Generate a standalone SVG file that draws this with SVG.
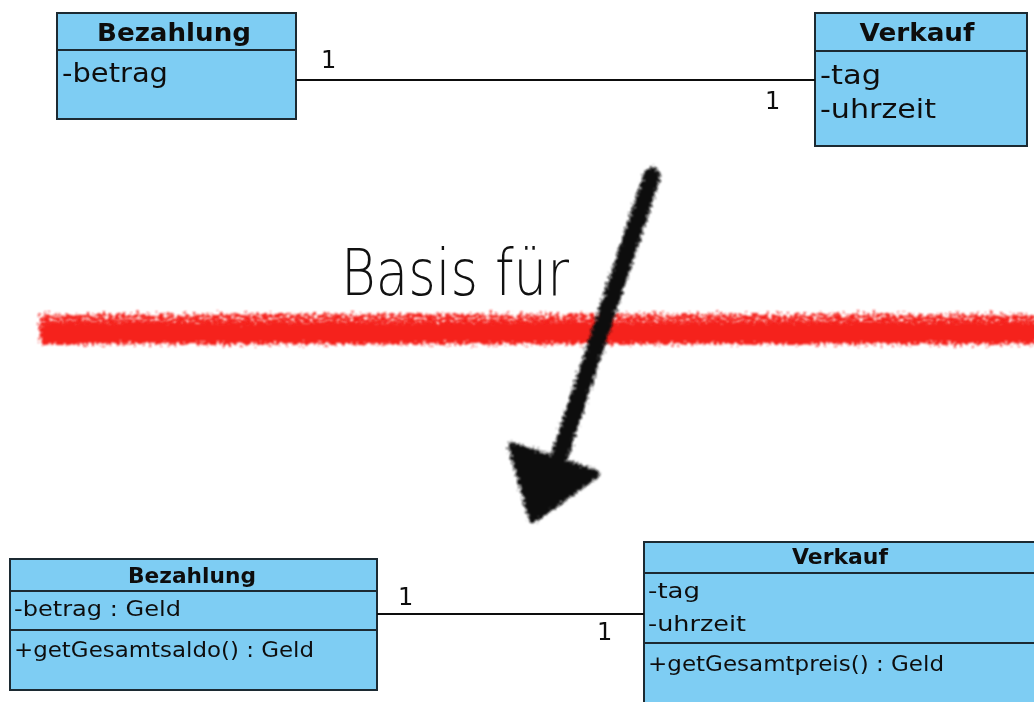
<svg xmlns="http://www.w3.org/2000/svg" width="1034" height="702" viewBox="0 0 1034 702">
  <style>
    .box { fill: #7ecdf3; stroke: #1e2a30; stroke-width: 2; }
    .sep { stroke: #1e2a30; stroke-width: 2; }
    .title { font-family: "DejaVu Sans", "Liberation Sans", sans-serif; font-weight: bold; fill: #111; text-anchor: middle; }
    .attr { font-family: "DejaVu Sans", "Liberation Sans", sans-serif; fill: #111; }
    .mult { font-family: "DejaVu Sans", "Liberation Sans", sans-serif; fill: #111; font-size: 24px; }
    .assoc { stroke: #111; stroke-width: 2; fill: none; }
    .hand { font-family: "DejaVu Sans", sans-serif; font-weight: 200; fill: #111; }
  </style>
  <defs>
    <!-- rough crayon edge -->
    <filter id="crayon" x="-5%" y="-80%" width="110%" height="260%">
      <feTurbulence type="fractalNoise" baseFrequency="0.35" numOctaves="3" seed="3" result="n"/>
      <feDisplacementMap in="SourceGraphic" in2="n" scale="12" xChannelSelector="R" yChannelSelector="G" result="d"/>
      <feGaussianBlur in="d" stdDeviation="0.9"/>
    </filter>
    <!-- sparse, speckled crayon strokes -->
    <filter id="speckle" x="-5%" y="-80%" width="110%" height="260%">
      <feTurbulence type="fractalNoise" baseFrequency="0.3" numOctaves="3" seed="11" result="n"/>
      <feDisplacementMap in="SourceGraphic" in2="n" scale="12" xChannelSelector="R" yChannelSelector="G" result="d"/>
      <feTurbulence type="fractalNoise" baseFrequency="0.22 0.5" numOctaves="2" seed="5" result="m"/>
      <feColorMatrix in="m" type="matrix" values="0 0 0 0 0  0 0 0 0 0  0 0 0 0 0  8 0 0 0 -2.8" result="mask"/>
      <feComposite in="d" in2="mask" operator="in" result="c"/>
      <feGaussianBlur in="c" stdDeviation="0.8"/>
    </filter>
    <filter id="chalk" x="-20%" y="-10%" width="140%" height="120%">
      <feTurbulence type="fractalNoise" baseFrequency="0.4" numOctaves="3" seed="7" result="n"/>
      <feDisplacementMap in="SourceGraphic" in2="n" scale="10" xChannelSelector="R" yChannelSelector="G" result="d"/>
      <feGaussianBlur in="d" stdDeviation="0.8"/>
    </filter>
    <filter id="soft"><feGaussianBlur stdDeviation="0.45"/></filter>
  </defs>

  <rect width="1034" height="702" fill="#fff"/>

  <g filter="url(#soft)">
    <!-- upper model: classes with attributes only -->
    <g id="bezahlung-top">
      <rect class="box" x="57" y="13" width="239" height="106"/>
      <line class="sep" x1="57" y1="50" x2="296" y2="50"/>
      <text class="title" x="174" y="41" font-size="25" textLength="154" lengthAdjust="spacingAndGlyphs">Bezahlung</text>
      <text class="attr" x="62" y="82" font-size="26" textLength="106" lengthAdjust="spacingAndGlyphs">-betrag</text>
    </g>
    <g id="verkauf-top">
      <rect class="box" x="815" y="13" width="212" height="133"/>
      <line class="sep" x1="815" y1="51" x2="1027" y2="51"/>
      <text class="title" x="917" y="41" font-size="25" textLength="115" lengthAdjust="spacingAndGlyphs">Verkauf</text>
      <text class="attr" x="820" y="84" font-size="26" textLength="61" lengthAdjust="spacingAndGlyphs">-tag</text>
      <text class="attr" x="820" y="118" font-size="26" textLength="116" lengthAdjust="spacingAndGlyphs">-uhrzeit</text>
    </g>

    <!-- lower model: classes with types and operations -->
    <g id="bezahlung-bottom">
      <rect class="box" x="10" y="559" width="367" height="131"/>
      <line class="sep" x1="10" y1="591" x2="377" y2="591"/>
      <line class="sep" x1="10" y1="630" x2="377" y2="630"/>
      <text class="title" x="192" y="583" font-size="21" textLength="128" lengthAdjust="spacingAndGlyphs">Bezahlung</text>
      <text class="attr" x="14" y="616" font-size="22" textLength="167" lengthAdjust="spacingAndGlyphs">-betrag : Geld</text>
      <text class="attr" x="14" y="657" font-size="22" textLength="300" lengthAdjust="spacingAndGlyphs">+getGesamtsaldo() : Geld</text>
    </g>
    <g id="verkauf-bottom">
      <rect class="box" x="644" y="542" width="400" height="170"/>
      <line class="sep" x1="644" y1="573" x2="1034" y2="573"/>
      <line class="sep" x1="644" y1="643" x2="1034" y2="643"/>
      <text class="title" x="840" y="564" font-size="21" textLength="96" lengthAdjust="spacingAndGlyphs">Verkauf</text>
      <text class="attr" x="648" y="598" font-size="22" textLength="52" lengthAdjust="spacingAndGlyphs">-tag</text>
      <text class="attr" x="648" y="631" font-size="22" textLength="98" lengthAdjust="spacingAndGlyphs">-uhrzeit</text>
      <text class="attr" x="648" y="671" font-size="22" textLength="296" lengthAdjust="spacingAndGlyphs">+getGesamtpreis() : Geld</text>
    </g>

    <!-- associations -->
    <g id="connectors">
      <line class="assoc" x1="296" y1="80" x2="815" y2="80"/>
      <text class="mult" x="321" y="68">1</text>
      <text class="mult" x="765" y="109">1</text>
      <line class="assoc" x1="377" y1="614" x2="644" y2="614"/>
      <text class="mult" x="398" y="605">1</text>
      <text class="mult" x="597" y="640">1</text>
    </g>
  </g>

  <!-- hand-drawn annotation -->
  <g id="annotation">
    <rect x="40" y="314" width="1000" height="16" fill="#f5201a" filter="url(#speckle)"/>
    <rect x="40" y="322" width="1000" height="22" fill="#f5201a" filter="url(#crayon)"/>
    <text class="hand" x="341" y="295" font-size="64" textLength="228" lengthAdjust="spacingAndGlyphs">Basis für</text>
    <g filter="url(#chalk)" fill="#111" stroke="#111">
      <line x1="652" y1="176" x2="556" y2="466" stroke-width="17" stroke-linecap="round"/>
      <polygon points="512,446 596,474 533,519" stroke-width="8" stroke-linejoin="round"/>
    </g>
  </g>
</svg>
